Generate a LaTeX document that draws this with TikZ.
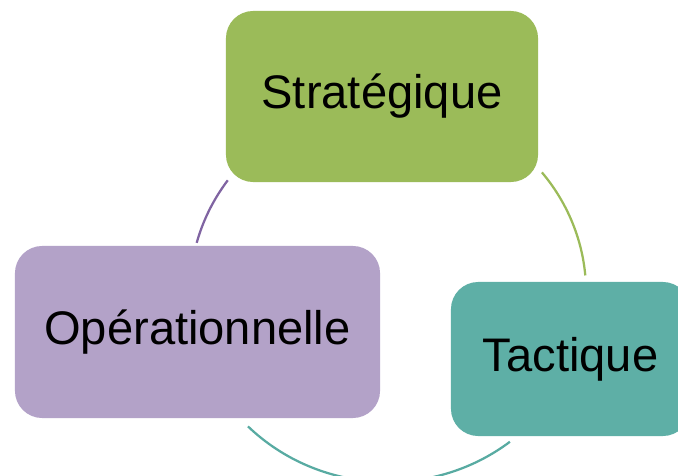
\documentclass[tikz,border=0pt]{standalone}
\usepackage{fontspec}
\setmainfont{Liberation Sans}
\usepackage{tikz}

\definecolor{strategreen}{HTML}{9BBB59}
\definecolor{operpurple}{HTML}{B3A2C8}
\definecolor{tactteal}{HTML}{5EAFA6}
\definecolor{arcpurple}{HTML}{8064A2}
\definecolor{arcteal}{HTML}{58ABA2}

\tikzset{
  levelbox/.style={rounded corners=0.68cm, inner sep=0pt, align=center,
    font=\fontsize{33.5}{40}\selectfont},
  cyclearc/.style={line width=1.6pt}
}

\begin{document}
\begin{tikzpicture}[x=0.025cm, y=0.025cm]
\useasboundingbox (0,0) rectangle (678,475);
\coordinate (ctr) at (388,183);
\node [levelbox, fill=strategreen, minimum width=7.8cm, minimum height=4.275cm] (strat) at (382,378.5) {Stratégique};
\node [levelbox, fill=operpurple, minimum width=9.125cm, minimum height=4.3cm] (oper) at (197.5,143) {Opérationnelle};
\node [levelbox, fill=tactteal, minimum width=5.975cm, minimum height=3.85cm] (tact) at (570.5,116) {\raisebox{2pt}{Tactique}};
\draw [cyclearc, strategreen] (ctr) ++(39:4.95cm and 4.75cm) arc [start angle=39, end angle=5, x radius=4.95cm, y radius=4.75cm];
\draw [cyclearc, arcteal] (ctr) ++(308:4.95cm and 4.75cm) arc [start angle=308, end angle=225, x radius=4.95cm, y radius=4.75cm];
\draw [cyclearc, arcpurple] (ctr) ++(165:4.95cm and 4.75cm) arc [start angle=165, end angle=144, x radius=4.95cm, y radius=4.75cm];
\end{tikzpicture}
\end{document}
